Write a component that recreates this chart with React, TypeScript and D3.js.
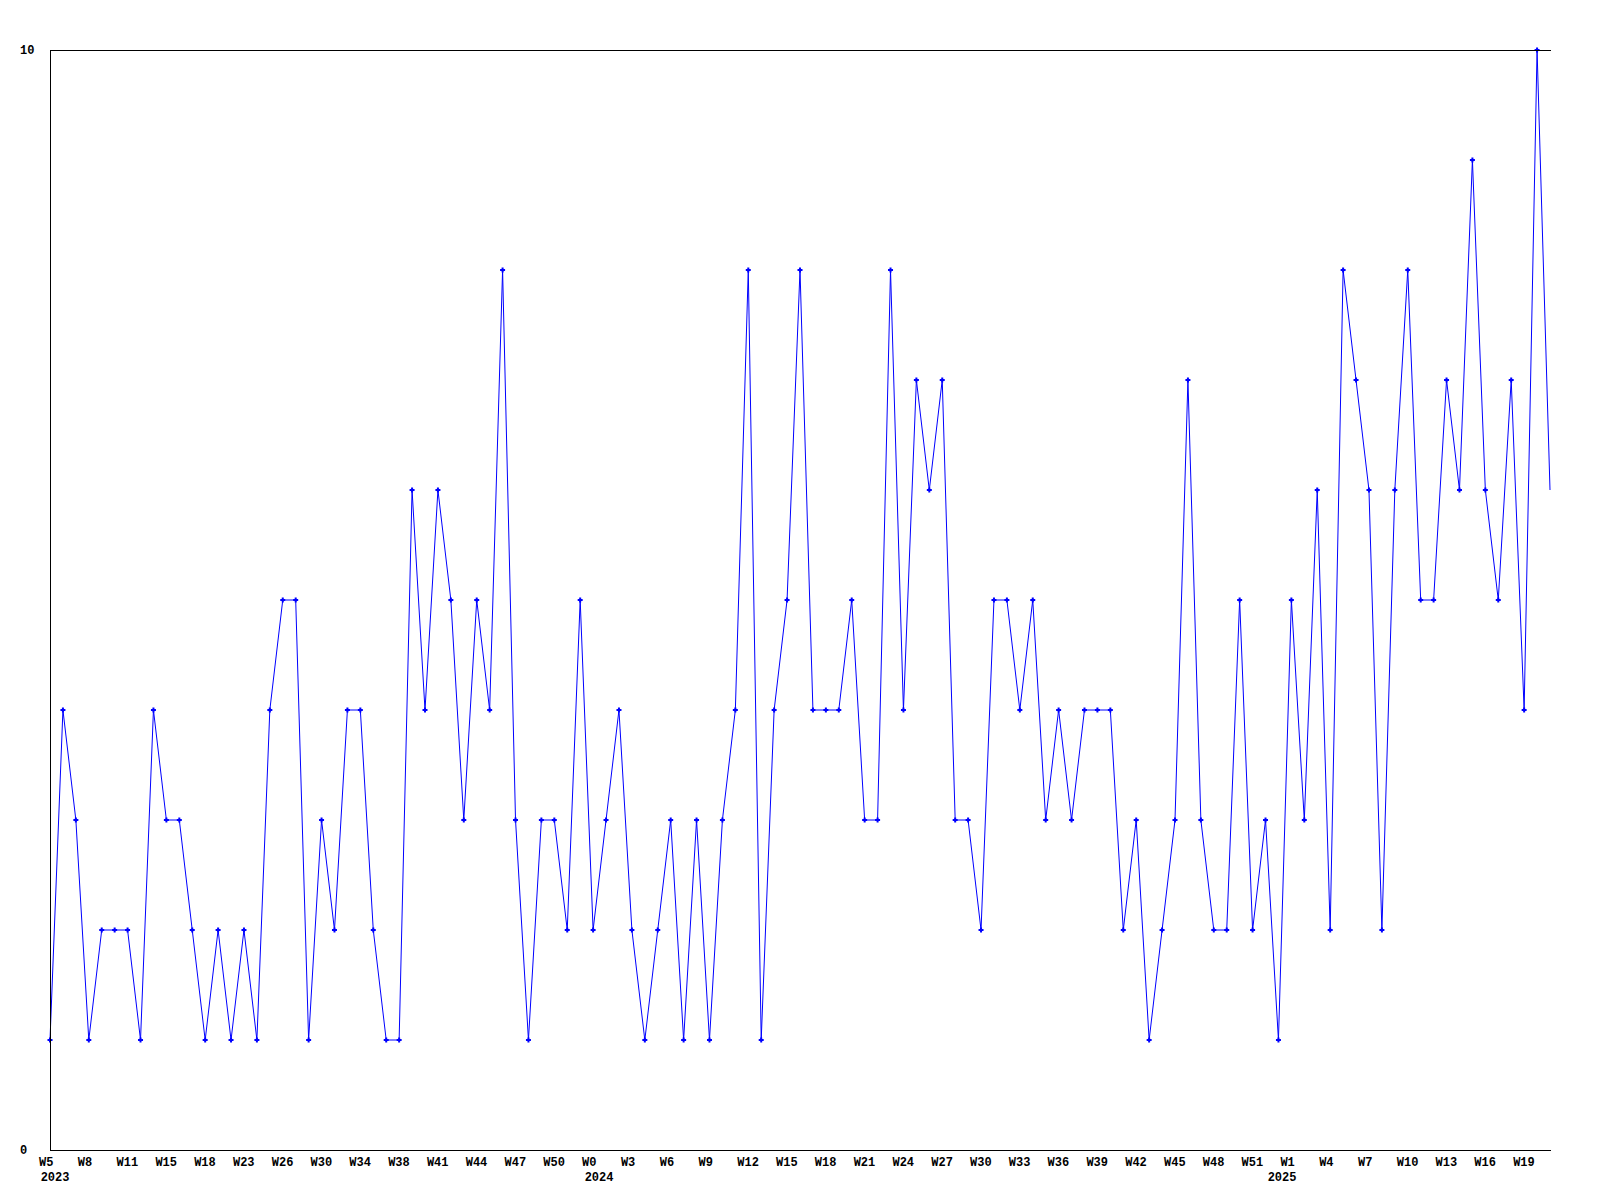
import React from "react";
import * as d3 from "d3";

const values: number[] = [
  1, 4, 3, 1, 2, 2, 2, 1, 4, 3,
  3, 2, 1, 2, 1, 2, 1, 4, 5, 5,
  1, 3, 2, 4, 4, 2, 1, 1, 6, 4,
  6, 5, 3, 5, 4, 8, 3, 1, 3, 3,
  2, 5, 2, 3, 4, 2, 1, 2, 3, 1,
  3, 1, 3, 4, 8, 1, 4, 5, 8, 4,
  4, 4, 5, 3, 3, 8, 4, 7, 6, 7,
  3, 3, 2, 5, 5, 4, 5, 3, 4, 3,
  4, 4, 4, 2, 3, 1, 2, 3, 7, 3,
  2, 2, 5, 2, 3, 1, 5, 3, 6, 2,
  8, 7, 6, 2, 6, 8, 5, 5, 7, 6,
  9, 6, 5, 7, 4, 10, 6,
];

const weekLabels: string[] = [
  "W5", "W8", "W11", "W15", "W18", "W23", "W26", "W30", "W34", "W38",
  "W41", "W44", "W47", "W50", "W0", "W3", "W6", "W9", "W12", "W15",
  "W18", "W21", "W24", "W27", "W30", "W33", "W36", "W39", "W42", "W45",
  "W48", "W51", "W1", "W4", "W7", "W10", "W13", "W16", "W19",
];
const weekLabelStep = 3;

const yearLabels: string[] = ["2023", "2024", "2025"];
const yearLabelPos: number[] = [0.39, 42.46, 95.28];

const yTickLabels: number[] = [10, 0];

const W = 1600;
const H = 1200;
const left = 50;
const right = 1550;
const top = 50;
const bottom = 1150;

export default function App() {
  const x = d3.scaleLinear().domain([0, values.length - 1]).range([left, right]);
  const y = d3.scaleLinear().domain([0, 10]).range([bottom, top]);
  const line = d3
    .line<number>()
    .x((_, i) => x(i))
    .y((d) => y(d));
  const font = "'Liberation Mono', 'DejaVu Sans Mono', monospace";
  const marker = (cx: number, cy: number) =>
    `M${cx - 2.5},${cy - 1}h1.5v-1.5h2v1.5h1.5v2h-1.5v1.5h-2v-1.5h-1.5z`;
  return (
    <svg
      width={W}
      height={H}
      style={{ position: "absolute", left: 0, top: 0, background: "#fff" }}
    >
      <rect x={0} y={0} width={W} height={H} fill="#fff" />
      <path d={line(values) || ""} fill="none" stroke="#0000ff" strokeWidth={1} />
      {values.slice(0, values.length - 1).map((v, i) => (
        <path key={i} d={marker(x(i), y(v))} fill="#0000ff" />
      ))}
      <g shapeRendering="crispEdges" stroke="#000" strokeWidth={1}>
        <line x1={left} x2={left} y1={top} y2={bottom} />
        <line x1={left} x2={right + 1} y1={top} y2={top} />
        <line x1={left} x2={right + 1} y1={bottom} y2={bottom} />
      </g>
      {yTickLabels.map((t) => (
        <text
          key={t}
          x={20}
          y={y(t) + 4}
          fontFamily={font}
          fontWeight="bold"
          fontSize={12}
          fill="#000"
        >
          {t}
        </text>
      ))}
      {weekLabels.map((l, i) => (
        <text
          key={i}
          x={x(i * weekLabelStep) - 11}
          y={bottom + 16}
          fontFamily={font}
          fontWeight="bold"
          fontSize={12}
          fill="#000"
        >
          {l}
        </text>
      ))}
      {yearLabels.map((l, i) => (
        <text
          key={l}
          x={x(yearLabelPos[i])}
          y={bottom + 31}
          textAnchor="middle"
          fontFamily={font}
          fontWeight="bold"
          fontSize={12}
          fill="#000"
        >
          {l}
        </text>
      ))}
    </svg>
  );
}
